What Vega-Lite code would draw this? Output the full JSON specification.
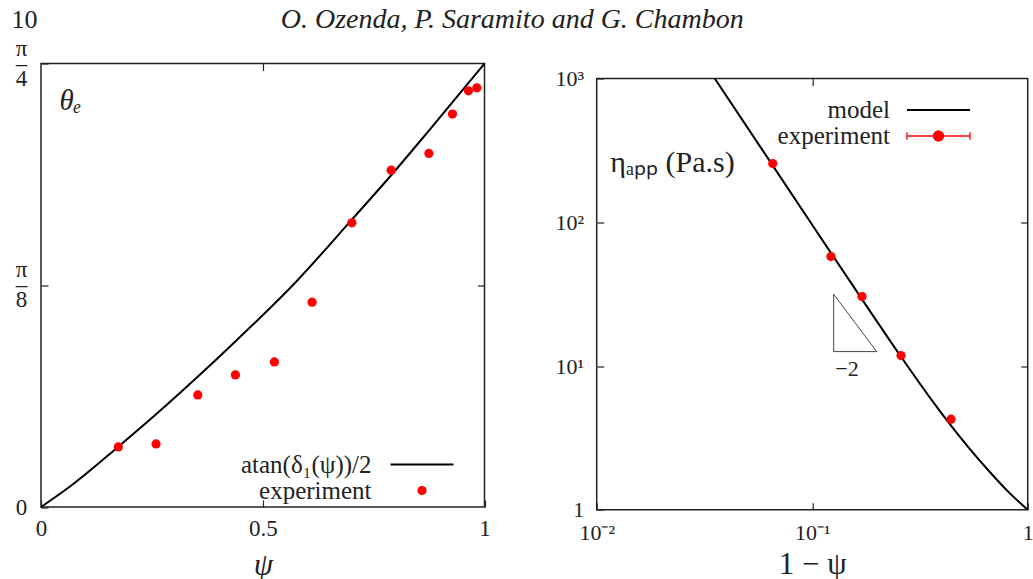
{
  "$schema": "https://vega.github.io/schema/vega-lite/v6.json",
  "background": "white",
  "padding": {"left": 10, "top": 5.5, "right": 0, "bottom": 0},
  "datasets": {
    "curve_left": [
      {"psi": 0, "theta": 0},
      {"psi": 0.0638, "theta": 0.0353},
      {"psi": 0.1744, "theta": 0.1068},
      {"psi": 0.2594, "theta": 0.1641},
      {"psi": 0.3526, "theta": 0.2301},
      {"psi": 0.4399, "theta": 0.2945},
      {"psi": 0.5752, "theta": 0.399},
      {"psi": 0.7009, "theta": 0.5089},
      {"psi": 0.7895, "theta": 0.5875},
      {"psi": 0.8723, "theta": 0.6644},
      {"psi": 1, "theta": 0.7854}
    ],
    "exp_left": [
      {"psi": 0.1744, "theta": 0.1063},
      {"psi": 0.2594, "theta": 0.1116},
      {"psi": 0.3535, "theta": 0.1984},
      {"psi": 0.4383, "theta": 0.2339},
      {"psi": 0.5263, "theta": 0.2569},
      {"psi": 0.6113, "theta": 0.3627},
      {"psi": 0.7009, "theta": 0.5032},
      {"psi": 0.7895, "theta": 0.5965},
      {"psi": 0.8746, "theta": 0.6261},
      {"psi": 0.9278, "theta": 0.6958},
      {"psi": 0.9639, "theta": 0.737},
      {"psi": 0.9828, "theta": 0.7424}
    ],
    "curve_right": [
      {"one_minus_psi": 0.0353, "eta": 1000},
      {"one_minus_psi": 0.0653, "eta": 250.6},
      {"one_minus_psi": 0.1023, "eta": 91.2},
      {"one_minus_psi": 0.1795, "eta": 25.9},
      {"one_minus_psi": 0.2583, "eta": 11.61},
      {"one_minus_psi": 0.3725, "eta": 5.37},
      {"one_minus_psi": 0.4299, "eta": 4.04},
      {"one_minus_psi": 0.5323, "eta": 2.71},
      {"one_minus_psi": 0.6592, "eta": 1.87},
      {"one_minus_psi": 0.8163, "eta": 1.327},
      {"one_minus_psi": 1, "eta": 1}
    ],
    "exp_right": [
      {"one_minus_psi": 0.0656, "eta": 255.9},
      {"one_minus_psi": 0.1222, "eta": 57.7},
      {"one_minus_psi": 0.1702, "eta": 30.4},
      {"one_minus_psi": 0.2583, "eta": 11.83},
      {"one_minus_psi": 0.4406, "eta": 4.27}
    ],
    "slope_triangle": [
      {"vertex": 0, "one_minus_psi": 0.1258, "eta": 31.6},
      {"vertex": 1, "one_minus_psi": 0.1258, "eta": 12.6},
      {"vertex": 2, "one_minus_psi": 0.1992, "eta": 12.6},
      {"vertex": 3, "one_minus_psi": 0.1258, "eta": 31.6}
    ]
  },
  "config": {
    "font": "Liberation Serif",
    "view": {"stroke": "#222222", "strokeWidth": 1.5},
    "axis": {
      "domain": false,
      "grid": false,
      "ticks": true,
      "tickColor": "#222222",
      "tickSize": -7,
      "tickWidth": 1.2,
      "labelFlush": false,
      "labelOverlap": false,
      "labelFont": "Liberation Serif",
      "labelFontSize": 23,
      "labelColor": "#222222",
      "titleFont": "Liberation Serif",
      "titleFontWeight": "normal",
      "titleColor": "#222222"
    },
    "legend": {
      "labelFont": "Liberation Serif",
      "labelFontSize": 25,
      "labelColor": "#222222",
      "padding": 0
    }
  },
  "bounds": "flush",
  "spacing": 111.7,
  "resolve": {"scale": {"color": "independent"}, "legend": {"color": "independent"}},
  "hconcat": [
    {
      "width": 443.5,
      "height": 443.5,
      "title": {"text": "10", "anchor": "start", "frame": "bounds", "dx": -3.7, "fontSize": 26, "fontWeight": "normal", "fontStyle": "normal", "color": "#222222", "offset": 4},
      "layer": [
        {
          "data": {"name": "curve_left"},
          "mark": {"type": "line", "strokeWidth": 2, "interpolate": "monotone"},
          "encoding": {
            "x": {"field": "psi", "type": "quantitative", "scale": {"domain": [0, 1], "nice": false},
                  "axis": {"orient": "bottom", "values": [0, 0.5, 1], "format": "~g", "title": "ψ", "titleFontStyle": "italic", "titleFontSize": 31, "labelPadding": 17, "titlePadding": 10}},
            "y": {"field": "theta", "type": "quantitative", "scale": {"domain": [0, 0.7853981634], "nice": false},
                  "axis": {"orient": "left", "values": [0, 0.3926990817, 0.7853981634],
                           "labelExpr": "datum.value < 0.1 ? '0' : (datum.value < 0.5 ? ['π', '–', '8'] : ['π', '–', '4'])",
                           "labelLineHeight": 15, "labelPadding": 27, "labelAlign": "center",
                           "labelOffset": {"condition": {"test": "datum.value > 0.1", "value": -15.5}, "value": 0},
                           "title": "θₑ", "titleAngle": 0, "titleAlign": "left", "titleBaseline": "middle", "titleX": 18, "titleY": 37, "titleFontStyle": "italic", "titleFontSize": 29}},
            "color": {"datum": "atan(δ₁(ψ))/2", "type": "nominal",
                      "scale": {"domain": ["atan(δ₁(ψ))/2", "experiment"], "range": ["#000000", "#ff0000"]},
                      "legend": {"orient": "none", "legendX": 368.5, "legendY": 388.5, "title": null, "symbolSize": 85, "labelAlign": "right", "labelOffset": -63, "rowPadding": -14,
                                 "encode": {"symbols": {"update": {
                                   "shape": {"signal": "datum.value === 'experiment' ? 'circle' : 'stroke'"},
                                   "size": {"signal": "datum.value === 'experiment' ? 85 : 3969"},
                                   "fill": {"signal": "datum.value === 'experiment' ? '#ff0000' : 'transparent'"},
                                   "stroke": {"signal": "datum.value === 'experiment' ? '#ff0000' : '#000000'"},
                                   "strokeWidth": {"signal": "datum.value === 'experiment' ? 0 : 2"},
                                   "opacity": {"value": 1}}}}}}
          }
        },
        {
          "data": {"name": "exp_left"},
          "mark": {"type": "circle", "size": 85, "opacity": 1},
          "encoding": {
            "x": {"field": "psi", "type": "quantitative", "scale": {"domain": [0, 1], "nice": false},
                  "axis": {"orient": "top", "values": [0.5], "labels": false, "title": null}},
            "y": {"field": "theta", "type": "quantitative", "scale": {"domain": [0, 0.7853981634], "nice": false},
                  "axis": {"orient": "right", "values": [0.3926990817], "labels": false, "title": null}},
            "color": {"datum": "experiment", "type": "nominal"}
          }
        }
      ],
      "resolve": {"axis": {"x": "independent", "y": "independent"}}
    },
    {
      "bounds": "flush",
      "spacing": 0,
      "vconcat": [
        {
          "width": 431,
          "height": 14.4,
          "title": {"text": "O. Ozenda, P. Saramito and G. Chambon", "anchor": "start", "frame": "group", "dx": -316, "fontSize": 28, "fontWeight": "normal", "fontStyle": "italic", "color": "#222222", "offset": 29.5},
          "view": {"stroke": null},
          "data": {"values": [{}]},
          "mark": {"type": "rule", "opacity": 0},
          "encoding": {}
        },
        {
          "width": 431,
          "height": 431.3,
          "layer": [
            {
              "data": {"name": "curve_right"},
              "mark": {"type": "line", "strokeWidth": 2, "interpolate": "monotone", "clip": true},
              "encoding": {
                "x": {"field": "one_minus_psi", "type": "quantitative", "scale": {"type": "log", "domain": [0.01, 1], "nice": false},
                      "axis": {"orient": "bottom", "values": [0.01, 0.1, 1],
                               "labelExpr": "datum.value > 0.5 ? '1' : (datum.value > 0.05 ? '10⁻¹' : '10⁻²')",
                               "labelPadding": 20, "labelFontSize": 22, "title": "1 − ψ", "titleFontSize": 31, "titlePadding": 6}},
                "y": {"field": "eta", "type": "quantitative", "scale": {"type": "log", "domain": [1, 1000], "nice": false},
                      "axis": {"orient": "left", "values": [1, 10, 100, 1000],
                               "labelExpr": "datum.value < 5 ? '1' : (datum.value < 50 ? '10¹' : (datum.value < 500 ? '10²' : '10³'))",
                               "labelPadding": 20, "labelFontSize": 22,
                               "title": "ηₐₚₚ (Pa.s)", "titleAngle": 0, "titleAlign": "left", "titleBaseline": "middle", "titleX": 13, "titleY": 84, "titleFontSize": 30}},
                "color": {"datum": "model", "type": "nominal",
                          "scale": {"domain": ["model", "experiment"], "range": ["#000000", "#ff0000"]},
                          "legend": {"orient": "none", "legendX": 329.3, "legendY": 34, "title": null, "symbolSize": 85, "labelAlign": "right", "labelOffset": -61, "rowPadding": -13,
                                     "encode": {"symbols": {"update": {
                                       "shape": {"signal": "datum.value === 'experiment' ? 'M-1,0H1M-1,-0.12V0.12M1,-0.12V0.12M0.16,0A0.16,0.16 0 1,1 -0.16,0A0.16,0.16 0 1,1 0.16,0Z' : 'stroke'"},
                                       "size": {"value": 3969},
                                       "fill": {"signal": "datum.value === 'experiment' ? '#ff0000' : 'transparent'"},
                                       "stroke": {"signal": "datum.value === 'experiment' ? '#ff7070' : '#000000'"},
                                       "strokeWidth": {"signal": "datum.value === 'experiment' ? 1.3 : 2"},
                                       "opacity": {"value": 1}}}}}}
              }
            },
            {
              "data": {"name": "exp_right"},
              "mark": {"type": "circle", "size": 85, "opacity": 1},
              "encoding": {
                "x": {"field": "one_minus_psi", "type": "quantitative", "scale": {"type": "log", "domain": [0.01, 1], "nice": false},
                      "axis": {"orient": "top", "values": [0.1], "labels": false, "title": null}},
                "y": {"field": "eta", "type": "quantitative", "scale": {"type": "log", "domain": [1, 1000], "nice": false},
                      "axis": {"orient": "right", "values": [10, 100], "labels": false, "title": null}},
                "color": {"datum": "experiment", "type": "nominal"}
              }
            },
            {
              "data": {"name": "slope_triangle"},
              "mark": {"type": "line", "strokeWidth": 1, "color": "#444444"},
              "encoding": {
                "x": {"field": "one_minus_psi", "type": "quantitative", "scale": {"type": "log", "domain": [0.01, 1], "nice": false}, "axis": null},
                "y": {"field": "eta", "type": "quantitative", "scale": {"type": "log", "domain": [1, 1000], "nice": false}, "axis": null},
                "order": {"field": "vertex", "type": "quantitative"}
              }
            },
            {
              "data": {"values": [{"label": "−2"}]},
              "mark": {"type": "text", "fontSize": 22, "color": "#222222", "align": "center", "baseline": "middle"},
              "encoding": {
                "text": {"field": "label", "type": "nominal"},
                "x": {"datum": 0.145, "type": "quantitative", "scale": {"type": "log", "domain": [0.01, 1], "nice": false}, "axis": null},
                "y": {"datum": 9.5, "type": "quantitative", "scale": {"type": "log", "domain": [1, 1000], "nice": false}, "axis": null}
              }
            }
          ],
          "resolve": {"axis": {"x": "independent", "y": "independent"}}
        }
      ]
    }
  ]
}
